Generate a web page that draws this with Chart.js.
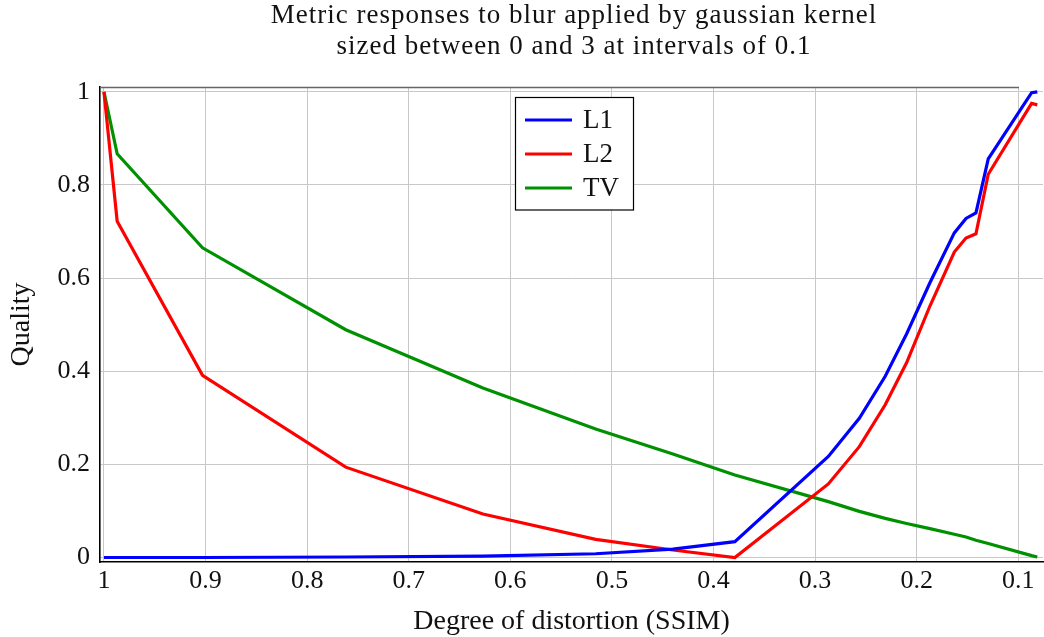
<!DOCTYPE html>
<html>
<head>
<meta charset="utf-8">
<script src="https://cdn.jsdelivr.net/npm/chart.js@4.4.1/dist/chart.umd.min.js"></script>
<style>
  html, body { margin: 0; padding: 0; background: #fff; }
  #wrap { width: 1044px; height: 637px; }
</style>
</head>
<body>
<div id="wrap"><canvas id="myChart" width="1044" height="637"></canvas></div>
<script>
var ssim = [1, 0.987, 0.903, 0.762, 0.627, 0.516, 0.44, 0.379, 0.287, 0.2565, 0.231, 0.21, 0.187, 0.163, 0.1515, 0.1417, 0.1296, 0.0869, 0.0813];
var l1 = [0.0, 0.0, 0.0, 0.001, 0.003, 0.008, 0.018, 0.034, 0.217, 0.299, 0.389, 0.48, 0.59, 0.697, 0.728, 0.740, 0.856, 0.998, 1.0];
var l2 = [1.0, 0.722, 0.391, 0.194, 0.0935, 0.039, 0.016, 0.0, 0.158, 0.238, 0.328, 0.418, 0.54, 0.656, 0.686, 0.695, 0.823, 0.975, 0.972];
var tv = [1.0, 0.867, 0.665, 0.489, 0.364, 0.276, 0.222, 0.177, 0.12, 0.099, 0.084, 0.073, 0.062, 0.05, 0.044, 0.037, 0.03, 0.004, 0.001];

var seriesNames = ["L1", "L2", "TV"];
var seriesColors = ["#0000ff", "#ff0000", "#009100"];
var xTicks = [1, 0.9, 0.8, 0.7, 0.6, 0.5, 0.4, 0.3, 0.2, 0.1];
var yTicks = [0, 0.2, 0.4, 0.6, 0.8, 1];
var titleLines = ["Metric responses to blur applied by gaussian kernel", "sized between 0 and 3 at intervals of 0.1"];

var serif = "'Liberation Serif', 'Times New Roman', serif";

function toPoints(ys) {
  var pts = [];
  for (var i = 0; i < ssim.length; i++) {
    pts.push({ x: ssim[i], y: ys[i] });
  }
  return pts;
}

var datasets = [l1, l2, tv].map(function (ys, i) {
  return {
    label: seriesNames[i],
    data: toPoints(ys),
    borderColor: seriesColors[i],
    backgroundColor: seriesColors[i],
    borderWidth: 3.2,
    pointRadius: 0,
    tension: 0,
    fill: false,
  };
});

// title, top border and legend box drawn by hand (pgfplots style)
var decorations = {
  id: "decorations",
  afterDraw: function (chart) {
    var ctx = chart.ctx;
    var area = chart.chartArea;
    ctx.save();

    // top frame line
    ctx.strokeStyle = "#666";
    ctx.lineWidth = 1.6;
    ctx.beginPath();
    ctx.moveTo(area.left, area.top + 0.5);
    ctx.lineTo(1019, area.top + 0.5);
    ctx.stroke();

    // title
    ctx.fillStyle = "#111";
    ctx.font = "27px " + serif;
    ctx.letterSpacing = "1px";
    ctx.textAlign = "center";
    ctx.textBaseline = "alphabetic";
    ctx.fillText(titleLines[0], 574, 23);
    ctx.fillText(titleLines[1], 574, 54);
    ctx.letterSpacing = "0px";

    // legend
    var bx = 515.5, by = 97.5, bw = 118, bh = 112.5;
    ctx.fillStyle = "#fff";
    ctx.fillRect(bx, by, bw, bh);
    ctx.strokeStyle = "#000";
    ctx.lineWidth = 1.2;
    ctx.strokeRect(bx, by, bw, bh);
    ctx.font = "27px " + serif;
    ctx.textAlign = "left";
    ctx.textBaseline = "middle";
    var rows = [120, 154, 188];
    chart.data.datasets.forEach(function (ds, i) {
      ctx.strokeStyle = ds.borderColor;
      ctx.lineWidth = 3.2;
      ctx.beginPath();
      ctx.moveTo(525, rows[i]);
      ctx.lineTo(572, rows[i]);
      ctx.stroke();
      ctx.fillStyle = "#111";
      ctx.fillText(ds.label, 583, rows[i] + 1);
    });
    ctx.restore();
  },
};

var ctx = document.getElementById("myChart").getContext("2d");
var myChart = new Chart(ctx, {
  type: "line",
  data: { datasets: datasets },
  options: {
    responsive: false,
    animation: false,
    layout: { padding: { top: 87, right: 1, left: 0, bottom: 0 } },
    plugins: {
      legend: { display: false },
      title: { display: false },
      tooltip: { enabled: false },
    },
    scales: {
      x: {
        type: "linear",
        reverse: true,
        min: 0.0757,
        max: 1.0039,
        afterFit: function (scale) { scale.height = 75; },
        afterBuildTicks: function (scale) {
          scale.ticks = xTicks.map(function (v) { return { value: v }; });
        },
        ticks: {
          autoSkip: false,
          maxRotation: 0,
          padding: 4,
          color: "#111",
          font: { family: serif, size: 26 },
          callback: function (v) { return String(Math.round(v * 10) / 10); },
        },
        grid: { color: "#c8c8c8", lineWidth: 1, drawTicks: false },
        border: { color: "#000", width: 1.6 },
        title: {
          display: true,
          text: "Degree of distortion (SSIM)",
          color: "#111",
          font: { family: serif, size: 28, lineHeight: 1.1 },
          padding: { top: 0, bottom: 0 },
        },
      },
      y: {
        type: "linear",
        min: -0.0097,
        max: 1.0103,
        afterFit: function (scale) { scale.width = 100; },
        afterBuildTicks: function (scale) {
          scale.ticks = yTicks.map(function (v) { return { value: v }; });
        },
        ticks: {
          padding: 10,
          color: "#111",
          font: { family: serif, size: 26 },
          callback: function (v) { return String(Math.round(v * 10) / 10); },
        },
        grid: { color: "#c8c8c8", lineWidth: 1, drawTicks: false },
        border: { color: "#000", width: 1.6 },
        title: {
          display: true,
          text: "Quality",
          color: "#111",
          font: { family: serif, size: 28, lineHeight: 1.1 },
          padding: { top: 6, bottom: 0 },
        },
      },
    },
  },
  plugins: [decorations],
});
</script>
</body>
</html>
